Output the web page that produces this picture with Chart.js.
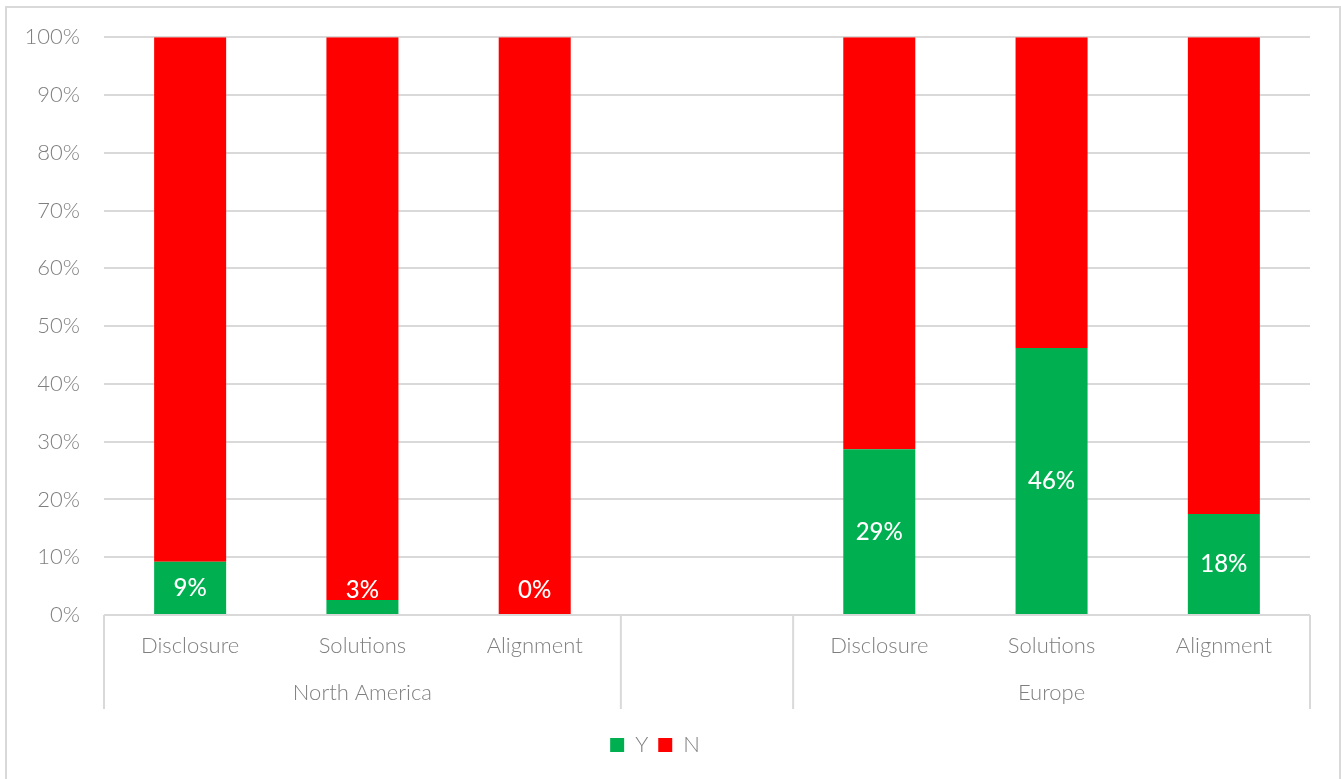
<!DOCTYPE html>
<html>
<head>
<meta charset="utf-8">
<script src="https://cdn.jsdelivr.net/npm/chart.js@4"></script>
<style>
  html, body { margin: 0; padding: 0; background: #fff; }
  #wrap { width: 1341px; height: 779px; }
</style>
</head>
<body>
<div id="wrap"><canvas id="mainChart" width="1341" height="779"></canvas></div>
<script>
// categories per slot; the empty slot splits the two regions
const categories = ["Disclosure", "Solutions", "Alignment", "", "Disclosure", "Solutions", "Alignment"];
const groups = [
  { label: "North America", from: 0, to: 2 },
  { label: "Europe", from: 4, to: 6 }
];
// share of "Y" answers, percent
const yesValues = [9.2, 2.6, 0, null, 28.7, 46.2, 17.5];
const noValues = yesValues.map(v => v === null ? null : 100 - v);
const yTicks = [0, 10, 20, 30, 40, 50, 60, 70, 80, 90, 100];

const textGray = '#7f7f7f';
const lineGray = '#d9d9d9';
const fontFamily = "Lato, 'Open Sans', sans-serif";
const axisFont = { family: fontFamily, size: 22, weight: '300' };

// light frame round the whole chart
const framePlugin = {
  id: 'frame',
  beforeDraw(chart) {
    const ctx = chart.ctx;
    ctx.save();
    ctx.strokeStyle = lineGray;
    ctx.lineWidth = 2;
    ctx.strokeRect(6, 7, chart.width - 7, chart.height + 10);
    ctx.restore();
  }
};

// group row under the category labels, with separators between slots
const groupAxisPlugin = {
  id: 'groupAxis',
  afterDraw(chart) {
    const ctx = chart.ctx;
    const x = chart.scales.x;
    const top = chart.chartArea.bottom;
    const bottom = top + 94;
    const half = (x.getPixelForValue(1) - x.getPixelForValue(0)) / 2;
    const edges = [x.getPixelForValue(0) - half, x.getPixelForValue(2) + half,
                   x.getPixelForValue(4) - half, x.getPixelForValue(6) + half];
    ctx.save();
    ctx.strokeStyle = lineGray;
    ctx.lineWidth = 2;
    edges.forEach(px => {
      ctx.beginPath();
      ctx.moveTo(px, top);
      ctx.lineTo(px, bottom);
      ctx.stroke();
    });
    ctx.fillStyle = textGray;
    ctx.font = `300 22px ${fontFamily}`;
    ctx.textAlign = 'center';
    ctx.textBaseline = 'middle';
    groups.forEach(g => {
      const cx = (x.getPixelForValue(g.from) + x.getPixelForValue(g.to)) / 2;
      ctx.fillText(g.label, cx, top + 78);
    });
    ctx.restore();
  }
};

// white value labels inside the Y segment, kept clear of the baseline
const valueLabelPlugin = {
  id: 'valueLabels',
  afterDatasetsDraw(chart) {
    const ctx = chart.ctx;
    const meta = chart.getDatasetMeta(0);
    const base = chart.scales.y.getPixelForValue(0);
    ctx.save();
    ctx.fillStyle = '#ffffff';
    ctx.font = `500 24px ${fontFamily}`;
    ctx.textAlign = 'center';
    ctx.textBaseline = 'middle';
    meta.data.forEach((bar, i) => {
      const v = yesValues[i];
      if (v === null) return;
      const mid = (bar.y + base) / 2;
      const y = Math.min(mid, base - 25);
      ctx.fillText(Math.round(v) + '%', bar.x, y);
    });
    ctx.restore();
  }
};

const ctx = document.getElementById('mainChart').getContext('2d');
new Chart(ctx, {
  type: 'bar',
  data: {
    labels: categories,
    datasets: [
      { label: 'Y', data: yesValues, backgroundColor: '#00b050', borderWidth: 0 },
      { label: 'N', data: noValues, backgroundColor: '#ff0000', borderWidth: 0 }
    ]
  },
  options: {
    responsive: false,
    animation: false,
    layout: { padding: { left: 0, top: 36, right: 31, bottom: 13 } },
    datasets: { bar: { categoryPercentage: 1, barPercentage: 0.418 } },
    scales: {
      x: {
        stacked: true,
        grid: { display: false, drawTicks: false },
        border: { display: false },
        ticks: { color: textGray, font: axisFont, padding: 18, maxRotation: 0, autoSkip: false },
        afterFit: scale => { scale.height = 109; }
      },
      y: {
        stacked: true,
        min: 0,
        max: 100,
        afterBuildTicks: scale => { scale.ticks = yTicks.map(v => ({ value: v })); },
        grid: { color: lineGray, lineWidth: 2, drawTicks: false },
        border: { display: false },
        ticks: {
          color: textGray,
          font: axisFont,
          padding: 24,
          callback: v => v + '%'
        },
        afterFit: scale => { scale.width = 104; }
      }
    },
    plugins: {
      legend: {
        position: 'bottom',
        labels: {
          color: textGray,
          font: axisFont,
          boxWidth: 14,
          boxHeight: 14,
          padding: 10
        }
      },
      tooltip: { enabled: false }
    }
  },
  plugins: [framePlugin, groupAxisPlugin, valueLabelPlugin]
});
</script>
</body>
</html>
